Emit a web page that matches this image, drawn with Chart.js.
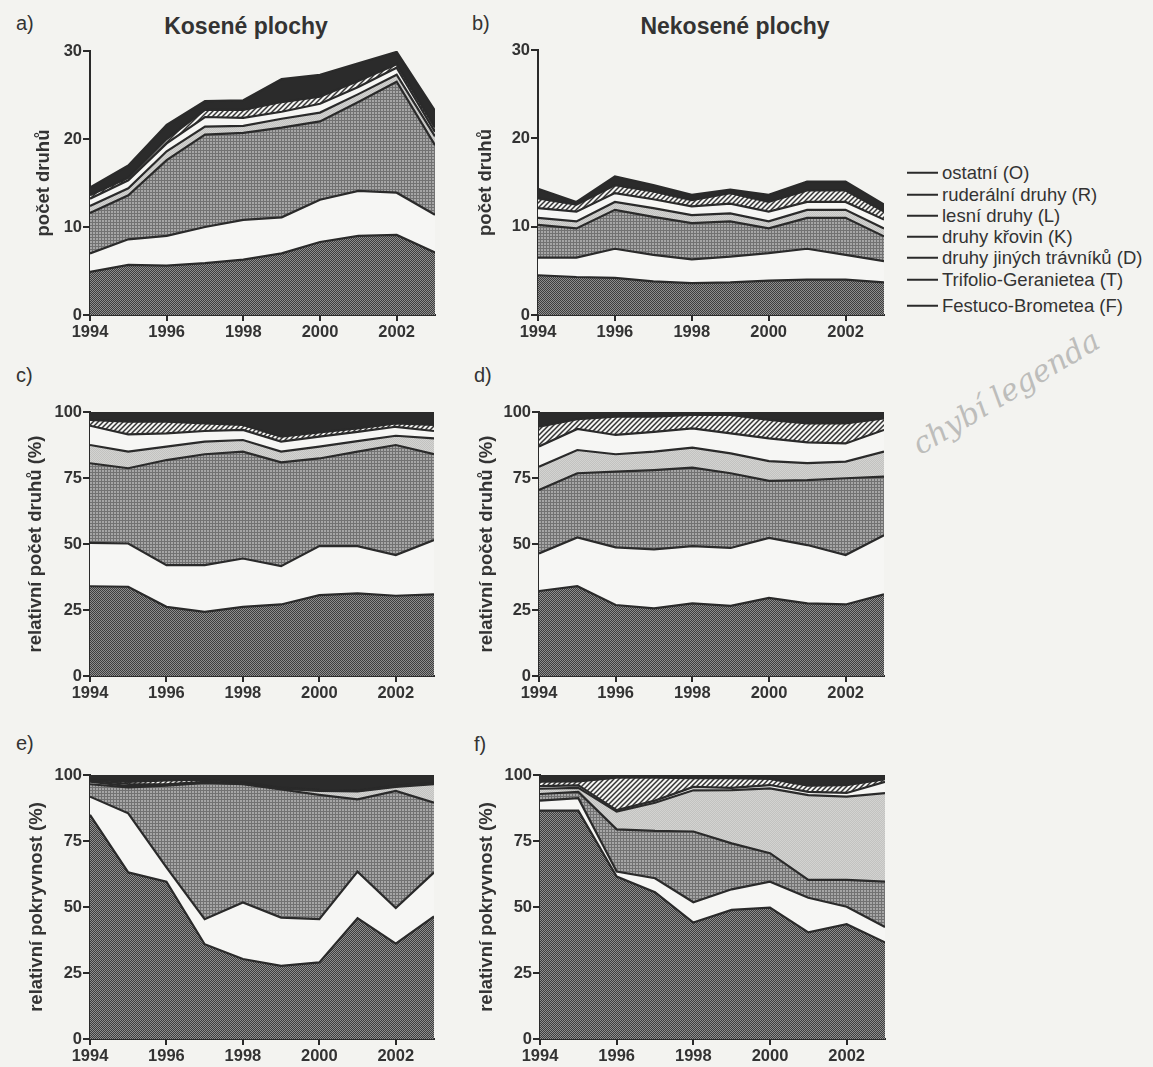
<!DOCTYPE html>
<html lang="cs">
<head>
<meta charset="utf-8">
<title>Kosené a nekosené plochy</title>
<script src="https://cdn.jsdelivr.net/npm/chart.js@4.4.1/dist/chart.umd.min.js"></script>
<style>
  html, body { margin: 0; padding: 0; background: #f3f3f0; }
  body { width: 1153px; height: 1067px; position: relative; overflow: hidden;
         font-family: "Liberation Sans", Arial, sans-serif; color: #333; }
  canvas { position: absolute; }
  .lbl { position: absolute; font-size: 20px; line-height: 1; transform: translateY(-50%); }
  .ttl { position: absolute; font-size: 23px; font-weight: bold; line-height: 1;
         transform: translate(-50%, -50%); white-space: nowrap; }
  .leg { position: absolute; left: 907px; font-size: 18.5px; line-height: 1; white-space: nowrap;
         transform: translateY(-50%); display: flex; align-items: center; }
  .leg i { display: inline-block; width: 31px; height: 2px; background: #2a2a2a; margin-right: 4px; }
  .note { position: absolute; left: 915px; top: 432px; font-family: "DejaVu Serif", serif;
          font-style: italic; font-size: 30px; line-height: 1; color: #bdbdbb; transform: rotate(-31deg);
          transform-origin: left center; white-space: nowrap; }
</style>
</head>
<body>

<div class="lbl" style="left:16px; top:23px;">a)</div>
<div class="lbl" style="left:472px; top:23px;">b)</div>
<div class="lbl" style="left:16px; top:375px;">c)</div>
<div class="lbl" style="left:474px; top:375px;">d)</div>
<div class="lbl" style="left:16px; top:743px;">e)</div>
<div class="lbl" style="left:474px; top:744px;">f)</div>

<div class="ttl" style="left:246px; top:26px;">Kosené plochy</div>
<div class="ttl" style="left:735px; top:26px;">Nekosené plochy</div>

<div id="legend"></div>
<div class="note">chybí legenda</div>

<canvas id="chartA" width="427" height="316" style="left:20px; top:39px;"></canvas>
<canvas id="chartB" width="428" height="317" style="left:468px; top:38px;"></canvas>
<canvas id="chartC" width="426" height="316" style="left:20px; top:400px;"></canvas>
<canvas id="chartD" width="427" height="316" style="left:469px; top:400px;"></canvas>
<canvas id="chartE" width="426" height="304" style="left:20px; top:763px;"></canvas>
<canvas id="chartF" width="427" height="304" style="left:470px; top:763px;"></canvas>

<script>
// Roky sledování a popisky os
const years = [1994, 1995, 1996, 1997, 1998, 1999, 2000, 2001, 2002, 2003];
const yearTicks = [1994, 1996, 1998, 2000, 2002];
const countTicks = [0, 10, 20, 30];
const percentTicks = [0, 25, 50, 75, 100];

// Skupiny druhů, odspodu nahoru (F, T, D, K, L, R, O)
const seriesLabels = [
  'Festuco-Brometea (F)',
  'Trifolio-Geranietea (T)',
  'druhy jiných trávníků (D)',
  'druhy křovin (K)',
  'lesní druhy (L)',
  'ruderální druhy (R)',
  'ostatní (O)'
];

// a) kosené plochy – počet druhů
const mownCountF = [4.9, 5.7, 5.6, 5.9, 6.3, 7.0, 8.3, 9.0, 9.1, 7.1];
const mownCountT = [2.1, 2.9, 3.4, 4.1, 4.5, 4.1, 4.8, 5.1, 4.8, 4.3];
const mownCountD = [4.6, 5.0, 8.6, 10.5, 9.9, 10.2, 8.9, 10.1, 12.6, 7.9];
const mownCountK = [0.8, 0.8, 1.0, 0.9, 0.8, 1.0, 1.0, 0.9, 0.8, 1.0];
const mownCountL = [0.8, 0.9, 0.9, 1.1, 0.9, 0.8, 1.0, 0.8, 0.8, 0.5];
const mownCountR = [0.4, 0.3, 0.5, 0.8, 0.9, 1.1, 0.8, 0.7, 0.4, 0.5];
const mownCountO = [0.9, 1.4, 1.6, 1.0, 1.1, 2.6, 2.5, 2.0, 1.4, 1.9];

// b) nekosené plochy – počet druhů
const unmownCountF = [4.5, 4.3, 4.2, 3.8, 3.6, 3.7, 3.9, 4.0, 4.0, 3.7];
const unmownCountT = [2.0, 2.2, 3.3, 3.0, 2.7, 2.9, 3.1, 3.5, 2.8, 2.4];
const unmownCountD = [3.7, 3.3, 4.4, 4.3, 4.1, 4.0, 2.8, 3.5, 4.2, 2.8];
const unmownCountK = [0.8, 0.8, 0.9, 1.0, 0.9, 0.9, 0.8, 0.9, 0.9, 0.9];
const unmownCountL = [1.1, 1.1, 1.0, 1.0, 1.0, 1.1, 1.1, 0.9, 0.9, 1.0];
const unmownCountR = [1.1, 0.8, 0.9, 0.9, 0.7, 1.2, 1.1, 1.3, 1.3, 0.9];
const unmownCountO = [1.1, 0.3, 1.0, 0.7, 0.6, 0.4, 0.8, 1.0, 1.0, 0.8];

// c) kosené plochy – relativní počet druhů (%)
const mownRelF = [34.0, 33.8, 26.2, 24.3, 26.2, 27.1, 30.6, 31.3, 30.4, 30.9];
const mownRelT = [16.4, 16.4, 15.8, 17.7, 18.3, 14.5, 18.6, 17.9, 15.4, 20.6];
const mownRelD = [30.2, 28.5, 39.8, 42.0, 40.5, 39.3, 33.2, 35.8, 41.7, 32.5];
const mownRelK = [6.9, 6.3, 5.1, 4.8, 4.4, 4.1, 4.5, 4.0, 3.5, 6.0];
const mownRelL = [7.3, 6.5, 5.0, 4.0, 3.8, 3.8, 3.8, 3.5, 3.4, 2.8];
const mownRelR = [2.2, 4.8, 4.4, 2.9, 1.9, 1.9, 1.6, 1.3, 1.3, 2.3];
const mownRelO = [3.0, 3.7, 3.7, 4.3, 4.9, 9.3, 7.7, 6.2, 4.3, 4.9];

// d) nekosené plochy – relativní počet druhů (%)
const unmownRelF = [32.2, 34.0, 26.9, 25.6, 27.5, 26.6, 29.6, 27.5, 27.1, 30.9];
const unmownRelT = [14.2, 18.5, 21.8, 22.4, 21.7, 21.9, 22.7, 22.1, 18.7, 22.4];
const unmownRelD = [24.1, 24.3, 28.7, 30.0, 29.7, 28.3, 21.6, 24.6, 29.1, 22.2];
const unmownRelK = [8.8, 8.8, 6.6, 7.0, 7.6, 7.5, 7.5, 6.4, 6.3, 9.5];
const unmownRelL = [7.6, 8.0, 7.3, 7.5, 7.3, 7.6, 8.6, 7.9, 6.9, 8.2];
const unmownRelR = [7.5, 3.7, 6.9, 5.7, 5.1, 7.0, 7.0, 7.2, 7.6, 4.4];
const unmownRelO = [5.6, 2.7, 1.8, 1.8, 1.1, 1.1, 3.0, 4.3, 4.3, 2.4];

// e) kosené plochy – relativní pokryvnost (%)
const mownCoverF = [84.9, 63.1, 59.6, 35.9, 30.3, 27.7, 29.0, 45.8, 36.1, 46.4];
const mownCoverT = [6.9, 22.4, 5.4, 9.5, 21.4, 18.3, 16.4, 17.6, 13.5, 16.7];
const mownCoverD = [4.7, 9.8, 31.0, 51.6, 44.8, 48.5, 47.1, 27.4, 44.4, 26.4];
const mownCoverK = [1.0, 0.5, 0.3, 0.2, 0.2, 0.3, 1.5, 3.0, 1.5, 7.0];
const mownCoverL = [0.5, 0.8, 0.2, 0.2, 0.2, 0.2, 0.2, 0.2, 0.3, 0.3];
const mownCoverR = [0.3, 0.8, 1.5, 0.8, 0.3, 0.2, 0.2, 0.2, 0.2, 0.2];
const mownCoverO = [1.7, 2.6, 2.0, 1.8, 2.8, 4.8, 5.6, 5.8, 4.0, 3.0];

// f) nekosené plochy – relativní pokryvnost (%)
const unmownCoverF = [86.5, 86.5, 61.5, 55.6, 44.1, 48.9, 49.8, 40.4, 43.5, 36.6];
const unmownCoverT = [3.8, 4.7, 1.9, 5.3, 7.7, 7.8, 9.8, 13.1, 6.6, 5.8];
const unmownCoverD = [2.5, 2.4, 16.0, 17.9, 26.8, 17.4, 10.8, 6.8, 10.2, 17.2];
const unmownCoverK = [2.0, 1.5, 6.7, 10.7, 15.6, 20.2, 24.5, 32.1, 31.5, 33.5];
const unmownCoverL = [1.0, 1.0, 0.6, 0.8, 1.3, 0.8, 1.3, 1.2, 1.4, 4.3];
const unmownCoverR = [1.7, 1.5, 12.3, 8.7, 3.3, 3.7, 2.3, 2.4, 3.0, 1.0];
const unmownCoverO = [2.5, 2.4, 1.0, 1.0, 1.2, 1.2, 1.5, 4.0, 3.8, 1.6];

// Legenda: ostatní nahoře, Festuco-Brometea dole
const legendRows = [173, 195, 216, 237, 258, 280, 306];
const legendBox = document.getElementById('legend');
seriesLabels.slice().reverse().forEach((text, i) => {
  const row = document.createElement('div');
  row.className = 'leg';
  row.style.top = legendRows[i] + 'px';
  row.innerHTML = '<i></i><span></span>';
  row.querySelector('span').textContent = text;
  legendBox.appendChild(row);
});

// Výplně ploch (šrafy a rastry)
function makeTile(w, h, draw) {
  const c = document.createElement('canvas');
  c.width = w; c.height = h;
  draw(c.getContext('2d'));
  return c;
}
const tileF = makeTile(2, 2, g => {
  g.fillStyle = '#8e8e8e'; g.fillRect(0, 0, 2, 2);
  g.fillStyle = '#3e3e3e'; g.fillRect(0, 0, 1, 1); g.fillRect(1, 1, 1, 1);
});
const tileD = makeTile(3, 3, g => {
  g.fillStyle = '#a6a6a6'; g.fillRect(0, 0, 3, 3);
  g.fillStyle = '#727272'; g.fillRect(0, 0, 3, 1); g.fillRect(0, 0, 1, 3);
});
const tileK = makeTile(2, 2, g => {
  g.fillStyle = '#d3d3d1'; g.fillRect(0, 0, 2, 2);
  g.fillStyle = '#c2c2c0'; g.fillRect(0, 0, 1, 1); g.fillRect(1, 1, 1, 1);
});
const tileR = makeTile(5, 5, g => {
  g.fillStyle = '#f5f5f3'; g.fillRect(0, 0, 5, 5);
  g.strokeStyle = '#333'; g.lineWidth = 1.5;
  g.beginPath();
  g.moveTo(-1, 6); g.lineTo(6, -1);
  g.moveTo(-1, 1); g.lineTo(1, -1);
  g.moveTo(4, 6); g.lineTo(6, 4);
  g.stroke();
});

function fillsFor(ctx) {
  return [
    ctx.createPattern(tileF, 'repeat'),
    '#f6f6f4',
    ctx.createPattern(tileD, 'repeat'),
    ctx.createPattern(tileK, 'repeat'),
    '#f6f6f4',
    ctx.createPattern(tileR, 'repeat'),
    '#2b2b2b'
  ];
}

const inkColor = '#2a2a2a';
const textColor = '#333';

function drawPanel(cfg) {
  const canvas = document.getElementById(cfg.id);
  const ctx = canvas.getContext('2d');
  const fills = fillsFor(ctx);
  const datasets = cfg.series.map((values, i) => ({
    label: seriesLabels[i],
    data: values.map((v, j) => ({ x: years[j], y: v })),
    fill: i === 0 ? 'origin' : '-1',
    backgroundColor: fills[i],
    borderColor: inkColor,
    borderWidth: 2.2,
    pointRadius: 0,
    tension: 0
  }));

  new Chart(ctx, {
    type: 'line',
    data: { datasets },
    options: {
      responsive: false,
      animation: false,
      events: [],
      layout: { padding: { top: 12, right: 12, left: 0, bottom: 0 } },
      plugins: {
        legend: { display: false },
        tooltip: { enabled: false },
        filler: { drawTime: 'beforeDatasetsDraw' }
      },
      scales: {
        x: {
          type: 'linear',
          min: 1994,
          max: 2003,
          afterBuildTicks: s => { s.ticks = yearTicks.map(v => ({ value: v })); },
          afterFit: s => { s.height = cfg.bottomSpace; },
          ticks: {
            callback: v => String(v),
            color: textColor,
            font: { size: 16.5, weight: 'bold' },
            padding: 2,
            maxRotation: 0,
            autoSkip: false
          },
          grid: { drawOnChartArea: false, tickLength: 6, color: inkColor, lineWidth: 2 },
          border: { display: true, color: inkColor, width: 2 }
        },
        y: {
          stacked: true,
          min: 0,
          max: cfg.max,
          afterBuildTicks: s => { s.ticks = cfg.ticks.map(v => ({ value: v })); },
          afterFit: s => { s.width = 70; },
          ticks: {
            color: textColor,
            font: { size: 16.5, weight: 'bold' },
            padding: 1
          },
          grid: { drawOnChartArea: false, tickLength: 7, color: inkColor, lineWidth: 2 },
          border: { display: true, color: inkColor, width: 2 },
          title: {
            display: true,
            text: cfg.title,
            color: textColor,
            font: { size: 18.5, weight: 'bold' },
            padding: { top: cfg.titlePad, bottom: 0 }
          }
        }
      }
    }
  });
}

const panels = [
  { id: 'chartA', title: 'počet druhů', max: 30, ticks: countTicks, titlePad: 13, bottomSpace: 40,
    series: [mownCountF, mownCountT, mownCountD, mownCountK, mownCountL, mownCountR, mownCountO] },
  { id: 'chartB', title: 'počet druhů', max: 30, ticks: countTicks, titlePad: 7, bottomSpace: 40,
    series: [unmownCountF, unmownCountT, unmownCountD, unmownCountK, unmownCountL, unmownCountR, unmownCountO] },
  { id: 'chartC', title: 'relativní počet druhů (%)', max: 100, ticks: percentTicks, titlePad: 5, bottomSpace: 40,
    series: [mownRelF, mownRelT, mownRelD, mownRelK, mownRelL, mownRelR, mownRelO] },
  { id: 'chartD', title: 'relativní počet druhů (%)', max: 100, ticks: percentTicks, titlePad: 7, bottomSpace: 40,
    series: [unmownRelF, unmownRelT, unmownRelD, unmownRelK, unmownRelL, unmownRelR, unmownRelO] },
  { id: 'chartE', title: 'relativní pokryvnost (%)', max: 100, ticks: percentTicks, titlePad: 6, bottomSpace: 28,
    series: [mownCoverF, mownCoverT, mownCoverD, mownCoverK, mownCoverL, mownCoverR, mownCoverO] },
  { id: 'chartF', title: 'relativní pokryvnost (%)', max: 100, ticks: percentTicks, titlePad: 6, bottomSpace: 28,
    series: [unmownCoverF, unmownCoverT, unmownCoverD, unmownCoverK, unmownCoverL, unmownCoverR, unmownCoverO] }
];

panels.forEach(drawPanel);
</script>
</body>
</html>
